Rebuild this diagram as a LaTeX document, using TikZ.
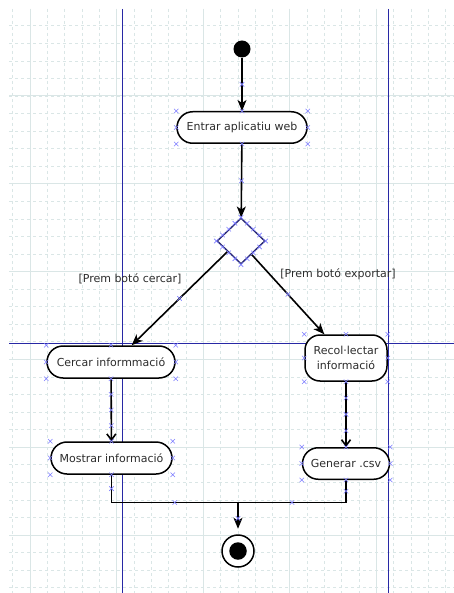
\documentclass[tikz,border=0pt]{standalone}
\usepackage{fontspec}
\setmainfont{DejaVu Sans}
\usetikzlibrary{shapes.geometric,arrows.meta,calc}
\definecolor{gridmaj}{RGB}{218,230,230}
\definecolor{gridmin}{RGB}{218,230,230}
\definecolor{lane}{RGB}{40,40,165}
\definecolor{dmdcol}{RGB}{40,40,110}
\definecolor{xcol}{RGB}{125,125,255}
\definecolor{txt}{RGB}{45,45,45}
\newcommand\mkcross[1]{\draw[xmk] #1 +(-2.2,-2.2) -- +(2.2,2.2) +(-2.2,2.2) -- +(2.2,-2.2);}
\newcommand\mkboxcross[1]{\foreach \a in {north west,north,north east,west,east,south west,south,south east}{\mkcross{(#1.\a)}}}
\begin{document}
\begin{tikzpicture}[x=1pt,y=-1pt,
  xmk/.style={draw=xcol,line width=0.6pt},
  gmin/.style={draw=gridmin,line width=0.7pt,dash pattern=on 3pt off 3pt},
  gmaj/.style={draw=gridmaj,line width=1pt},
  lanest/.style={draw=lane,line width=1pt},
  act/.style={draw=black,line width=1.5pt,fill=white,inner sep=0pt,text=txt,
    font=\fontsize{11}{14.3}\selectfont,align=center},
  lbl/.style={text=txt,font=\fontsize{11}{13}\selectfont,inner sep=0pt},
  conn/.style={draw=black,line width=1.6pt},
  fa/.style={-{Stealth[length=11pt,width=9pt,inset=3pt]}},
  va/.style={-{Straight Barb[length=6pt,width=9pt]}}]
\useasboundingbox (0,0) rectangle (454,593);
\fill[white] (0,0) rectangle (454,593);
% grid
\foreach \k in {0,...,25}{\pgfmathsetmacro\gx{12.7+17.32*\k}\draw[gmin] (\gx,9) -- (\gx,593);}
\foreach \k in {1,...,33}{\pgfmathsetmacro\gy{8.2+17.56*\k}\draw[gmin] (9,\gy) -- (454,\gy);}
\foreach \gx in {30.0,116.6,203.2,289.8,376.4}{\draw[gmaj] (\gx,9) -- (\gx,593);}
\foreach \gy in {96,183.8,271.6,359.4,447.2,535}{\draw[gmaj] (9,\gy) -- (454,\gy);}
% lanes
\draw[lanest] (122,9) -- (122,593);
\draw[lanest] (388,9) -- (388,593);
\draw[lanest] (9,343.5) -- (454,343.5);
% nodes
\node[circle,fill=black,minimum size=17pt,inner sep=0pt] (s) at (242,49) {};
\node[act,minimum width=130pt,minimum height=31.5pt,rounded corners=15.7pt] (e) at (242,127.5) {Entrar aplicatiu web};
\node[diamond,draw=dmdcol,line width=1.3pt,fill=white,minimum width=48pt,minimum height=46pt,inner sep=0pt] (d) at (241,241) {};
\node[act,minimum width=128pt,minimum height=32pt,rounded corners=16pt] (c) at (111,362) {Cercar informmació};
\node[act,minimum width=121pt,minimum height=32pt,rounded corners=16pt] (m) at (111.5,458) {Mostrar informació};
\node[act,minimum width=82pt,minimum height=46pt,rounded corners=15pt] (r) at (346,358) {Recol·lectar\\informació};
\node[act,minimum width=87pt,minimum height=31.5pt,rounded corners=15.7pt] (g) at (346,463.5) {Generar .csv};
\node[circle,draw=black,line width=1.5pt,fill=white,minimum size=32pt,inner sep=0pt] (f) at (238,551) {};
\node[circle,fill=black,minimum size=17.5pt,inner sep=0pt] (fi) at (238,551) {};
\node[lbl] (l1) at (130,279) {[Prem botó cercar]};
\node[lbl] (l2) at (338,274) {[Prem botó exportar]};
% connector ends
\coordinate (dl) at ($(d.west)!0.45!(d.south)$);
\coordinate (dr) at ($(d.east)!0.57!(d.south)$);
\coordinate (ct) at ($(c.north west)!0.66!(c.north east)$);
\coordinate (rt) at ($(r.north west)!0.24!(r.north east)$);
\coordinate (j) at (238,502.5);
% connectors
\draw[conn,fa] (s) -- (e);
\draw[conn,fa] (e) -- (d);
\draw[conn,fa] (dl) -- (ct);
\draw[conn,fa] (dr) -- (rt);
\draw[conn,va] (c) -- (m);
\draw[conn,va] (r) -- (g);
\draw[conn] (m.south) |- (j);
\draw[conn] (g.south) |- (j);
\draw[conn,fa,shorten >=5.5pt] (j) -- (f);
% connection point marks
\mkboxcross{e}
\mkboxcross{c}
\mkboxcross{m}
\mkboxcross{r}
\mkboxcross{g}
\foreach \p/\q in {north/west,west/south,south/east,east/north}{
  \foreach \t in {0,0.25,0.5,0.75}{\mkcross{($(d.\p)!\t!(d.\q)$)}}}
\mkcross{($(s.south)!0.5!(e.north)$)}
\mkcross{($(e.south)!0.5!(d.north)$)}
\mkcross{($(dl)!0.5!(ct)$)}
\mkcross{($(dr)!0.5!(rt)$)}
\foreach \t in {0.25,0.5,0.75}{\mkcross{($(c.south)!\t!(m.north)$)}\mkcross{($(r.south)!\t!(g.north)$)}}
\mkcross{($(m.south)!0.5!(m.south|-j)$)}
\mkcross{($(m.south|-j)!0.5!(j)$)}
\mkcross{($(g.south)!0.5!(g.south|-j)$)}
\mkcross{($(g.south|-j)!0.5!(j)$)}
\mkcross{($(j)!0.5!(f.north)$)}
\end{tikzpicture}
\end{document}
